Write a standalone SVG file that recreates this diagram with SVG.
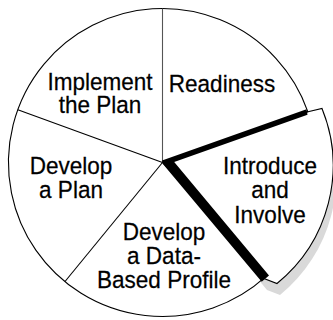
<svg xmlns="http://www.w3.org/2000/svg" xmlns:xlink="http://www.w3.org/1999/xlink" width="333" height="320" viewBox="0 0 333 320">
<style>
.lbl{font-family:"Liberation Sans",Arial,sans-serif;font-size:24.5px;fill:#000;stroke:#000;stroke-width:0.25;text-anchor:middle}
.edge{stroke:#000;stroke-width:1.1;fill:none}
</style>
<defs>
<path id="slicePath" d="M168 162.5 L307 112 L322 108.5 A152 152 0 0 1 277 283.5 L264 278.5 Z"/>
</defs>
<rect width="333" height="320" fill="#fff"/>
<g id="shadow">
<use xlink:href="#slicePath" href="#slicePath" transform="translate(3,11.5)" fill="#d9d9d9" stroke="none"/>
</g>
<g id="introduce-slice">
<use xlink:href="#slicePath" href="#slicePath" fill="#fff" stroke="#000" stroke-width="1.1"/>
</g>
<g id="pie">
<path d="M162.5 162.5 L266.3 276.2 A154 154 0 1 1 307.8 111.6 Z" fill="#fff" stroke="#000" stroke-width="1.1"/>
</g>
<g id="connectors">
<line x1="162.5" y1="162.5" x2="162.5" y2="8.5" stroke="#555" stroke-width="1.1"/>
<line class="edge" x1="162.5" y1="162.5" x2="17.8" y2="109.8"/>
<line class="edge" x1="162.5" y1="162.5" x2="65" y2="281.5"/>
<polygon points="162,160.5 306.5,109.3 307.5,114.8 174.2,162 269,275.5 261.7,281.7 162.5,163.5" fill="#000"/>
</g>
<g id="node-implement" transform="translate(100,0) scale(0.92,1)">
<text class="lbl" x="0" y="90">Implement</text>
<text class="lbl" x="0" y="113.5">the Plan</text>
</g>
<g id="node-readiness" transform="translate(222,0) scale(0.92,1)">
<text class="lbl" x="0" y="92">Readiness</text>
</g>
<g id="node-develop-plan" transform="translate(71,0) scale(0.92,1)">
<text class="lbl" x="0" y="174">Develop</text>
<text class="lbl" x="0" y="198">a Plan</text>
</g>
<g id="node-profile" transform="translate(164,0) scale(0.92,1)">
<text class="lbl" x="0" y="240">Develop</text>
<text class="lbl" x="0" y="264">a Data-</text>
<text class="lbl" x="0" y="288">Based Profile</text>
</g>
<g id="node-introduce" transform="translate(270,0) scale(0.92,1)">
<text class="lbl" x="0" y="174">Introduce</text>
<text class="lbl" x="0" y="198.5">and</text>
<text class="lbl" x="0" y="223">Involve</text>
</g>
</svg>
